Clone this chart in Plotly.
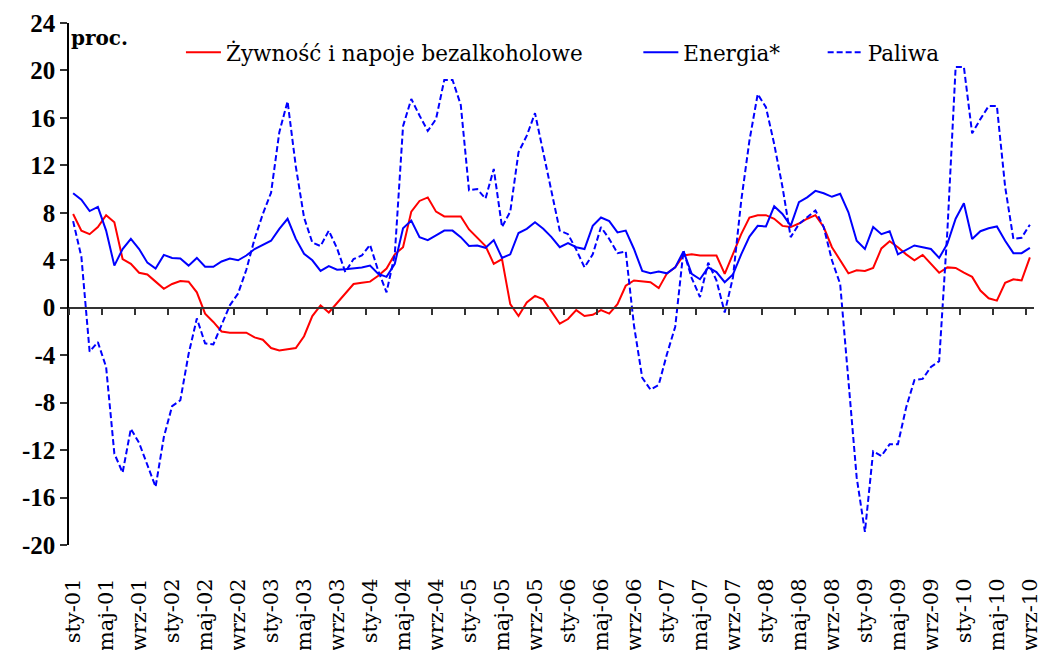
import plotly.graph_objects as go

# monthly data Jan 2001 .. Sep 2010 (117 points)
zywnosc = [7.9, 6.5, 6.2, 6.8, 7.8, 7.2, 4.1, 3.7, 2.95, 2.8, 2.2, 1.6,
           2.0, 2.25, 2.2, 1.3, -0.5, -1.2, -2.0, -2.1, -2.1, -2.1, -2.5, -2.7,
           -3.4, -3.6, -3.5, -3.4, -2.4, -0.7, 0.2, -0.4, 0.4, 1.2, 2.0, 2.1,
           2.2, 2.7, 3.3, 4.5, 5.1, 8.1, 9.0, 9.3, 8.1, 7.7, 7.7, 7.7,
           6.6, 5.9, 5.2, 3.7, 4.1, 0.3, -0.7, 0.45, 1.0, 0.7, -0.3, -1.35,
           -0.95, -0.2, -0.7, -0.6, -0.2, -0.5, 0.3, 1.85, 2.3, 2.2, 2.15, 1.65,
           2.9, 3.4, 4.4, 4.5, 4.4, 4.4, 4.4, 2.85, 4.5, 6.2, 7.6, 7.8,
           7.8, 7.5, 6.9, 6.8, 7.1, 7.5, 7.8, 6.8, 5.1, 4.0, 2.9, 3.15,
           3.1, 3.35, 5.0, 5.6, 5.1, 4.5, 4.0, 4.45, 3.7, 2.95, 3.4, 3.35,
           2.95, 2.6, 1.45, 0.8, 0.6, 2.1, 2.4, 2.3, 4.25]

energia = [9.65, 9.1, 8.15, 8.5, 6.5, 3.55, 4.95, 5.8, 4.95, 3.8, 3.3, 4.45,
           4.2, 4.15, 3.55, 4.2, 3.45, 3.45, 3.9, 4.15, 4.0, 4.4, 4.95, 5.3,
           5.65, 6.65, 7.5, 5.8, 4.55, 4.0, 3.1, 3.5, 3.2, 3.25, 3.3, 3.4,
           3.55, 2.85, 2.6, 3.7, 6.7, 7.35, 5.95, 5.7, 6.1, 6.5, 6.5, 5.95,
           5.2, 5.25, 5.05, 5.7, 4.2, 4.5, 6.3, 6.65, 7.2, 6.65, 5.95, 5.1,
           5.45, 5.1, 4.95, 6.9, 7.6, 7.3, 6.35, 6.5, 4.95, 3.1, 2.9, 3.05,
           2.9, 3.4, 4.75, 2.85, 2.4, 3.4, 3.0, 2.15, 2.8, 4.5, 6.0, 6.9,
           6.85, 8.55, 7.9, 6.9, 8.9, 9.3, 9.85, 9.65, 9.35, 9.6, 8.05, 5.65,
           4.95, 6.8, 6.2, 6.45, 4.5, 4.9, 5.25, 5.1, 4.95, 4.2, 5.4, 7.5,
           8.8, 5.8, 6.45, 6.7, 6.85, 5.65, 4.6, 4.6, 5.05]

paliwa = [7.3, 4.3, -3.7, -2.9, -5.0, -12.3, -13.9, -10.2, -11.4, -13.2, -15.1, -10.9,
          -8.3, -7.8, -3.9, -0.9, -3.0, -3.1, -1.5, 0.2, 1.2, 3.2, 5.8, 7.9,
          9.7, 14.8, 17.4, 11.9, 7.6, 5.5, 5.2, 6.5, 5.0, 3.0, 4.1, 4.4,
          5.3, 3.1, 1.3, 4.5, 15.3, 17.6, 16.2, 14.9, 15.9, 19.2, 19.2, 17.1,
          9.9, 10.0, 9.2, 11.7, 6.8, 8.1, 13.1, 14.5, 16.4, 13.0, 9.8, 6.5,
          6.2, 4.9, 3.4, 4.5, 6.8, 5.8, 4.6, 4.75, -1.5, -5.9, -6.9, -6.5,
          -3.9, -1.6, 4.8, 2.5, 0.9, 3.8, 2.3, -0.4, 2.55, 9.0, 14.1, 18.0,
          16.9, 13.8, 10.2, 5.95, 7.05, 7.6, 8.2, 6.8, 4.0, 2.0, -6.5, -14.3,
          -18.9, -12.1, -12.5, -11.5, -11.5, -8.4, -6.1, -6.0, -5.0, -4.5, 6.5, 20.3,
          20.3, 14.7, 15.9, 17.0, 17.0, 10.2, 5.8, 5.9, 7.0]

month_abbr = ["sty", "maj", "wrz"]   # every 4th month label
years = ["01", "02", "03", "04", "05", "06", "07", "08", "09", "10"]
series_names = ["Żywność i napoje bezalkoholowe", "Energia*", "Paliwa"]
y_ticks = [-20, -16, -12, -8, -4, 0, 4, 8, 12, 16, 20, 24]
y_ticktext = [str(v) for v in y_ticks]  # plain hyphen minus, as in the original

n = len(zywnosc)
x = list(range(n))
tick_vals = list(range(0, n, 4))
tick_text = [f"{month_abbr[k % 3]}-{years[k // 3]}" for k in range(len(tick_vals))]
between_ticks = [v - 0.5 for v in tick_vals]

SERIF = "Liberation Serif"
WIDE = "DejaVu Serif"

fig = go.Figure()
fig.add_trace(go.Scatter(x=x, y=zywnosc, mode="lines", name=series_names[0],
                         line=dict(color="#FF0000", width=2), legend="legend"))
fig.add_trace(go.Scatter(x=x, y=energia, mode="lines", name=series_names[1],
                         line=dict(color="#0000FF", width=2), legend="legend2"))
fig.add_trace(go.Scatter(x=x, y=paliwa, mode="lines", name=series_names[2],
                         line=dict(color="#0000FF", width=2, dash="6px,3px"),
                         xaxis="x2", legend="legend3"))

xr = [-0.5, n - 0.5]
ymin, ymax = -20, 24
zero_pos = (0 - ymin) / (ymax - ymin)

leg_common = dict(orientation="h", yanchor="middle", xanchor="left",
                  bgcolor="rgba(0,0,0,0)", font=dict(family=WIDE, size=21.5, color="black"),
                  itemwidth=35, tracegroupgap=0)

fig.update_layout(
    width=1042, height=650,
    margin=dict(l=69, r=8, t=23, b=105),
    showlegend=True,
    plot_bgcolor="white", paper_bgcolor="white",
    xaxis=dict(range=xr, tickvals=tick_vals, ticktext=tick_text, tickangle=-90,
               showgrid=False, zeroline=False, showline=False, automargin=False,
               ticks="outside", ticklen=24, tickcolor="rgba(0,0,0,0)",
               tickfont=dict(family=WIDE, size=21, color="black")),
    xaxis2=dict(range=xr, overlaying="x", anchor="free", position=zero_pos,
                tickvals=between_ticks, showticklabels=False, automargin=False,
                ticks="outside", ticklen=7, tickwidth=1.5, tickcolor="#333",
                showline=True, linecolor="#333", linewidth=1.5,
                showgrid=False, zeroline=False),
    yaxis=dict(range=[ymin, ymax], tickvals=y_ticks, ticktext=y_ticktext,
               showgrid=False, zeroline=False, automargin=False,
               showline=True, linecolor="black", linewidth=1.5,
               ticks="outside", ticklen=7, tickwidth=1.5, tickcolor="#333",
               tickfont=dict(family=SERIF, size=25, color="black", weight="bold")),
    legend=dict(x=0.116, y=0.944, **leg_common),
    legend2=dict(x=0.59, y=0.944, **leg_common),
    legend3=dict(x=0.781, y=0.944, **leg_common),
    annotations=[dict(text="<b>proc.</b>", xref="paper", yref="paper", x=0.0, y=0.971,
                      xanchor="left", yanchor="middle", showarrow=False,
                      font=dict(family=WIDE, size=20, color="black"))],
)

# remove the default page margin so the 1042x650 figure fills the window exactly
fig.write_html("out.html",
               config={"displayModeBar": False},
               post_script="document.body.style.margin='0';document.body.style.overflow='hidden';")
